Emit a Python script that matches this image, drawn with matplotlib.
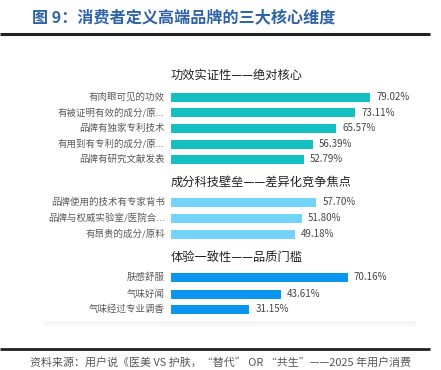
import matplotlib
matplotlib.use("Agg")
import matplotlib.pyplot as plt

plt.rcParams["font.family"] = ["Noto Sans CJK SC", "DejaVu Sans"]

# ---------------------------------------------------------------
# Data
# ---------------------------------------------------------------
title = "图 9：消费者定义高端品牌的三大核心维度"
source = "资料来源：用户说《医美 VS 护肤，“替代” OR “共生”——2025 年用户消费"

group_titles = ["功效实证性——绝对核心", "成分科技壁垒——差异化竞争焦点", "体验一致性——品质门槛"]

labels_1 = ["有肉眼可见的功效", "有被证明有效的成分/原...", "品牌有独家专利技术",
            "有用到有专利的成分/原...", "品牌有研究文献发表"]
values_1 = [79.02, 73.11, 65.57, 56.39, 52.79]

labels_2 = ["品牌使用的技术有专家背书", "品牌与权威实验室/医院合...", "有昂贵的成分/原料"]
values_2 = [57.70, 51.80, 49.18]

labels_3 = ["肤感舒服", "气味好闻", "气味经过专业调香"]
values_3 = [70.16, 43.61, 31.15]

colors = ["#13BFC1", "#74D3FB", "#0A96F0"]

groups = [(labels_1, values_1), (labels_2, values_2), (labels_3, values_3)]

# ---------------------------------------------------------------
# Layout (pixel units, y downwards)
# ---------------------------------------------------------------
W, H = 441, 370
fig = plt.figure(figsize=(W / 100, H / 100), dpi=100)
fig.patch.set_facecolor("white")

# bars start at x=171 px, 2.52 px per percent
x0, ppp = 171, 2.52
ax = fig.add_axes([x0 / W, 0, 100 * ppp / W, 1])
ax.set_xlim(0, 100)
ax.set_ylim(H, 0)
ax.axis("off")

# figure-level pixel axes for decorations
deco = fig.add_axes([0, 0, 1, 1], zorder=-1)
deco.set_xlim(0, W)
deco.set_ylim(H, 0)
deco.axis("off")

# title and rules
fig.text(32 / W, 1 - 17 / H, title, fontsize=11.6, fontweight="bold",
         color="#2F63A8", va="center", ha="left")
deco.plot([0, 430], [34, 34], color="#222222", lw=2.2, solid_capstyle="butt")
deco.plot([0, 430], [349, 349], color="#222222", lw=2.0, solid_capstyle="butt")
fig.text(30 / W, 1 - 362 / H, source, fontsize=7.9, color="#555555",
         va="center", ha="left")

# faint shadow under the chart card
for i in range(5):
    deco.plot([45, 415], [322 + i, 322 + i], color="#000000",
              alpha=0.03 - 0.005 * i, lw=1.2, solid_capstyle="round")

title_y = [75, 182, 257]
row_y = [[97, 112.5, 128, 144, 159.5], [202, 218, 234], [277, 294, 309.5]]
dx = 1 / ppp  # one pixel in data units

for (labels, values), ty, ys, c, gt in zip(groups, title_y, row_y, colors, group_titles):
    ax.text(0, ty, gt, fontsize=8.8, color="#222222", va="center", ha="left")
    ax.barh(ys, values, height=9, left=0, color=c, edgecolor="none")
    for y, lab, v in zip(ys, labels, values):
        ax.text(-6 * dx, y, lab, fontsize=6.8, color="#595959",
                va="center", ha="right")
        ax.text(v + 6 * dx, y, f"{v:.2f}%", fontsize=7, color="#444444",
                va="center", ha="left")

fig.savefig("out.png", dpi=100, facecolor="white")
